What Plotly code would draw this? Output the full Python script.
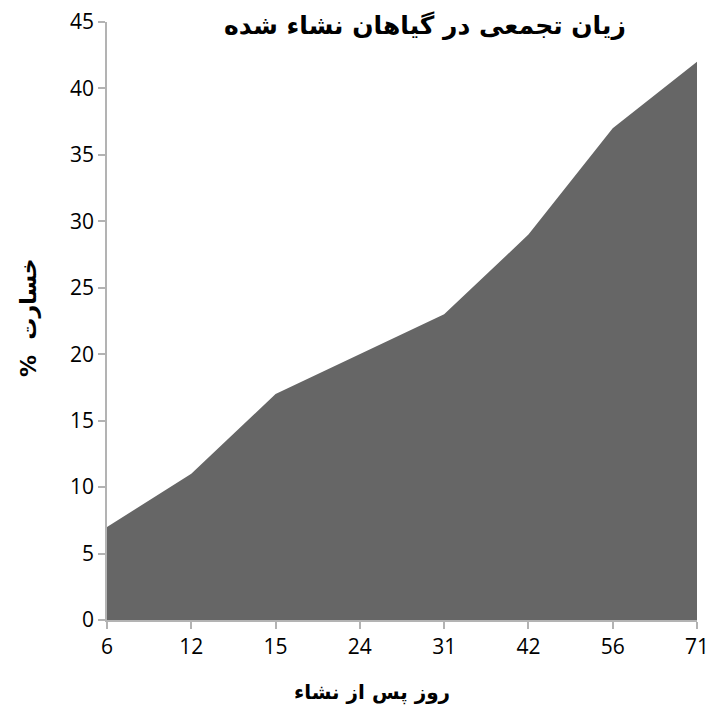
import plotly.graph_objects as go

days = ["6", "12", "15", "24", "31", "42", "56", "71"]
loss = [7, 11, 17, 20, 23, 29, 37, 42]
y_ticks = [0, 5, 10, 15, 20, 25, 30, 35, 40, 45]

title_text = "زیان تجمعی در گیاهان نشاء شده"
x_title = "روز پس از نشاء"
y_title = "%  خسارت"

fig = go.Figure()
fig.add_trace(go.Scatter(
    x=days, y=loss, mode="lines", fill="tozeroy",
    fillcolor="#666666", line=dict(width=0, color="#666666"),
    hoverinfo="x+y",
))

W, H = 712, 709
ml, mt = 107, 22
mr = W - 697
mb = H - 620


def px_x(x):
    return (x - ml) / (W - ml - mr)


def px_y(y):
    return (H - mb - y) / (H - mt - mb)


fig.update_layout(
    width=W, height=H,
    margin=dict(l=ml, r=mr, t=mt, b=mb, autoexpand=False),
    paper_bgcolor="white", plot_bgcolor="white",
    showlegend=False,
    font=dict(family="Open Sans, DejaVu Sans, sans-serif", color="black"),
    xaxis=dict(
        type="category", range=[0, 7], automargin=False,
        showline=True, linecolor="#b3b3b3", linewidth=1.5,
        ticks="outside", ticklen=7, tickcolor="#b3b3b3", tickwidth=1.5,
        tickfont=dict(size=21, family="Open Sans, sans-serif"),
        ticklabeloverflow="allow",
        showgrid=False, zeroline=False,
    ),
    yaxis=dict(
        range=[0, 45], tickvals=y_ticks, automargin=False,
        showline=True, linecolor="#b3b3b3", linewidth=1.5,
        ticks="outside", ticklen=7, tickcolor="#b3b3b3", tickwidth=1.5,
        tickfont=dict(size=21, family="Open Sans, sans-serif"),
        ticklabeloverflow="allow",
        showgrid=False, zeroline=False,
    ),
    annotations=[
        dict(text="<b>" + title_text + "</b>", xref="paper", yref="paper",
             x=px_x(425), y=px_y(25),
             xanchor="center", yanchor="middle", showarrow=False,
             font=dict(size=25, family="DejaVu Sans, sans-serif", color="black")),
        dict(text="<b>" + x_title + "</b>", xref="paper", yref="paper",
             x=px_x(372), y=px_y(692),
             xanchor="center", yanchor="middle", showarrow=False,
             font=dict(size=20, family="DejaVu Sans, sans-serif", color="black")),
        dict(text="<b>" + y_title + "</b>", xref="paper", yref="paper",
             x=px_x(28), y=px_y(318),
             xanchor="center", yanchor="middle", showarrow=False, textangle=-90,
             font=dict(size=22, family="DejaVu Sans, sans-serif", color="black")),
    ],
)

fig.write_html(
    "out.html",
    config={"displayModeBar": False},
    post_script="document.body.style.margin='0';document.body.style.overflow='hidden';",
)
